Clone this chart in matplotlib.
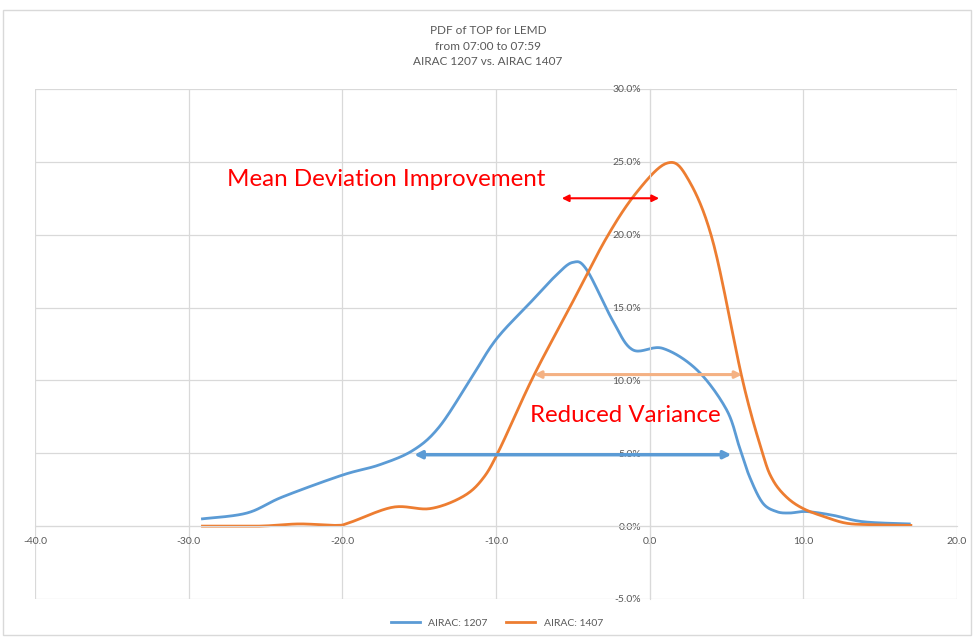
import numpy as np
import matplotlib.pyplot as plt
from matplotlib.ticker import FuncFormatter, MultipleLocator
from matplotlib.patches import Rectangle

# values (x = minutes, y = percent)
x_1207 = [-29.1, -26.2, -23.9, -20.0, -17.6, -15.4, -13.7, -11.7, -10.0, -7.8, -6.1, -5.0,
          -4.1, -2.4, -1.1, 0.85, 3.1, 5.0, 5.85, 6.5, 7.35, 8.25, 9.1, 10.2, 11.9, 13.9, 16.9]
y_1207 = [0.5, 0.9, 2.0, 3.5, 4.2, 5.2, 6.8, 10.0, 12.8, 15.3, 17.2, 18.1,
          17.6, 14.1, 12.1, 12.2, 10.7, 8.0, 5.4, 3.4, 1.6, 1.0, 0.9, 1.0, 0.75, 0.3, 0.15]
x_1407 = [-29.1, -25.4, -22.8, -20.4, -19.5, -16.7, -14.3, -12.2, -10.9, -9.8, -7.6, -5.2,
          -2.8, -0.85, 1.1, 2.4, 4.1, 6.05, 7.35, 8.0, 8.9, 10.0, 11.5, 12.8, 14.3, 17.0]
y_1407 = [0.0, 0.0, 0.15, 0.05, 0.25, 1.3, 1.2, 2.0, 3.2, 5.2, 10.2, 15.0,
          19.8, 22.9, 24.9, 24.0, 19.6, 10.0, 5.0, 3.2, 2.0, 1.2, 0.6, 0.2, 0.1, 0.05]
labels = ['AIRAC: 1207', 'AIRAC: 1407']
title = 'PDF of TOP for LEMD\nfrom 07:00 to 07:59\nAIRAC 1207 vs. AIRAC 1407'

blue = '#5B9BD5'
orange = '#ED7D31'
grey = '#595959'


def smooth(xs, ys, n=20):
    # catmull-rom through the points, like excel's smoothed line
    p = np.column_stack([xs, ys]).astype(float)
    p = np.vstack([p[0], p, p[-1]])
    out = []
    t = np.linspace(0, 1, n, endpoint=False)[:, None]
    for i in range(1, len(p) - 2):
        p0, p1, p2, p3 = p[i - 1], p[i], p[i + 1], p[i + 2]
        seg = 0.5 * ((2 * p1) + (-p0 + p2) * t + (2 * p0 - 5 * p1 + 4 * p2 - p3) * t ** 2
                     + (-p0 + 3 * p1 - 3 * p2 + p3) * t ** 3)
        out.append(seg)
    out.append(p[-2][None, :])
    out = np.vstack(out)
    return out[:, 0], out[:, 1]


plt.rcParams['font.family'] = ['Lato', 'DejaVu Sans']
fig = plt.figure(figsize=(9.74, 6.37), dpi=100)
fig.patches.append(Rectangle((0.003, 0.003), 0.994, 0.982, transform=fig.transFigure,
                             fill=False, edgecolor='#D9D9D9', lw=1))
ax = fig.add_axes([0.0359, 0.0597, 0.9466, 0.8006])

sx, sy = smooth(x_1207, y_1207)
ax.plot(sx, sy, color=blue, lw=2, label=labels[0])
sx, sy = smooth(x_1407, y_1407)
ax.plot(sx, sy, color=orange, lw=2, label=labels[1])

ax.set_xlim(-40, 20)
ax.set_ylim(-5, 30)
ax.xaxis.set_major_locator(MultipleLocator(10))
ax.yaxis.set_major_locator(MultipleLocator(5))
ax.xaxis.set_major_formatter(FuncFormatter(lambda v, _: f'{v:.1f}'))
ax.yaxis.set_major_formatter(FuncFormatter(lambda v, _: f'{v:.1f}%'))
ax.grid(True, color='#D9D9D9', lw=0.9)
ax.set_axisbelow(True)
for s in ['top', 'right']:
    ax.spines[s].set_visible(False)
ax.spines['bottom'].set_position(('data', 0))
ax.spines['left'].set_position(('data', 0))
ax.spines['bottom'].set_color('#D9D9D9')
ax.spines['left'].set_color('#D9D9D9')
ax.tick_params(length=0, labelsize=7.5, labelcolor=grey)
ax.tick_params(axis='x', pad=8)
ax.tick_params(axis='y', pad=6)

# annotations
ax.text(-27.5, 23.8, 'Mean Deviation Improvement', color='red', fontsize=17.4, va='center')
ax.annotate('', xy=(-5.9, 22.5), xytext=(0.8, 22.5),
            arrowprops=dict(arrowstyle='<|-|>', color='red', lw=1.5, mutation_scale=10))
ax.text(-1.6, 7.6, 'Reduced Variance', color='red', fontsize=17.3, va='center', ha='center')
ax.annotate('', xy=(-7.7, 10.4), xytext=(6.2, 10.4),
            arrowprops=dict(arrowstyle='<|-|>', color='#F4B183', lw=2.2, mutation_scale=10))
ax.annotate('', xy=(-15.5, 4.9), xytext=(5.5, 4.9),
            arrowprops=dict(arrowstyle='<|-|>', color=blue, lw=2.5, mutation_scale=11))

fig.text(0.501, 0.96, title, ha='center', va='top', fontsize=8.5, color=grey, linespacing=1.45)
fig.legend(loc='lower center', bbox_to_anchor=(0.51, 0.0), ncol=2, frameon=False,
           fontsize=7.5, labelcolor=grey, handlelength=2.8, columnspacing=1.8)

fig.savefig('out.png', dpi=100)
